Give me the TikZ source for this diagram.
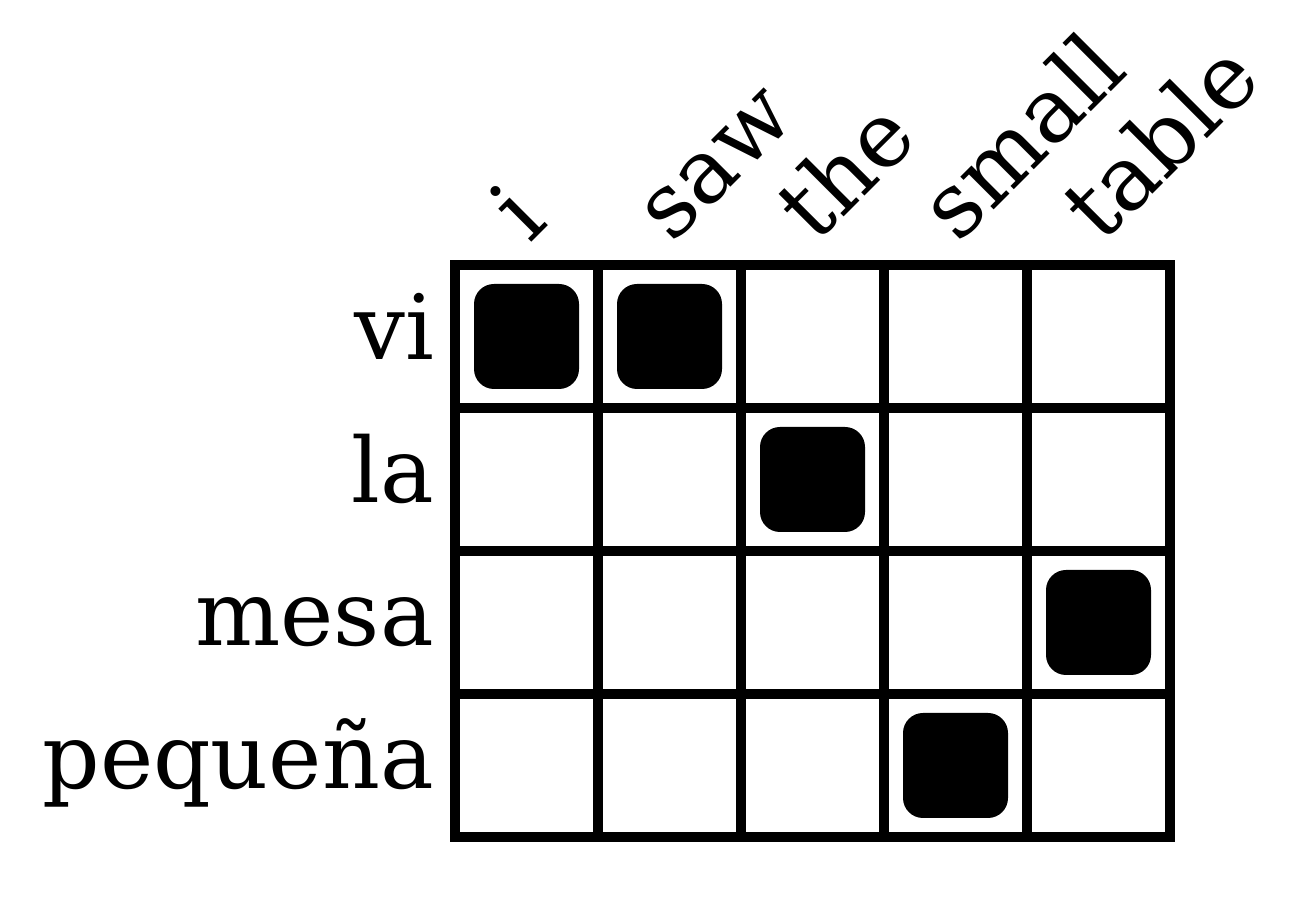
\documentclass[tikz,border=0pt]{standalone}
\usepackage{fontspec}
\setmainfont{DejaVu Serif}
\begin{document}
\begin{tikzpicture}[x=1bp,y=1bp,line join=miter,
  gridline/.style={line width=10bp},
  linkcell/.style={rectangle,fill=black,rounded corners=20bp,minimum size=105bp,inner sep=0pt},
  srcword/.style={anchor=base east,inner sep=0pt,font=\fontsize{90bp}{90bp}\selectfont},
  tgtword/.style={anchor=base west,rotate=45,inner sep=0pt,font=\fontsize{90bp}{90bp}\selectfont}]
  \useasboundingbox (0,0) rectangle (1290,919);
%%
  % Grid
  \draw [gridline] (455,82) rectangle (1170,654);
  \draw [gridline] (598,82) -- (598,654);
  \draw [gridline] (741,82) -- (741,654);
  \draw [gridline] (884,82) -- (884,654);
  \draw [gridline] (1027,82) -- (1027,654);
  \draw [gridline] (455,511) -- (1170,511);
  \draw [gridline] (455,368) -- (1170,368);
  \draw [gridline] (455,225) -- (1170,225);
  % Source words
  \node [srcword] (vi) at (434,559.5) {vi};
  \node [srcword] (la) at (434,416.5) {la};
  \node [srcword] (mesa) at (434,273.5) {mesa};
  \node [srcword] (pequena) at (434,130.5) {pequeña};
  % Target words
  \node [tgtword] (i) at (529.5,674) {i};
  \node [tgtword] (saw) at (672.5,674) {saw};
  \node [tgtword] (the) at (815.5,674) {the};
  \node [tgtword] (small) at (958.5,674) {small};
  \node [tgtword] (table) at (1101.5,674) {table};
  % Alignments
  \node [linkcell] (vi-i) at (526.5,582.5) {};
  \node [linkcell] (vi-saw) at (669.5,582.5) {};
  \node [linkcell] (la-the) at (812.5,439.5) {};
  \node [linkcell] (mesa-table) at (1098.5,296.5) {};
  \node [linkcell] (pequena-small) at (955.5,153.5) {};
%
\end{tikzpicture}
\end{document}
